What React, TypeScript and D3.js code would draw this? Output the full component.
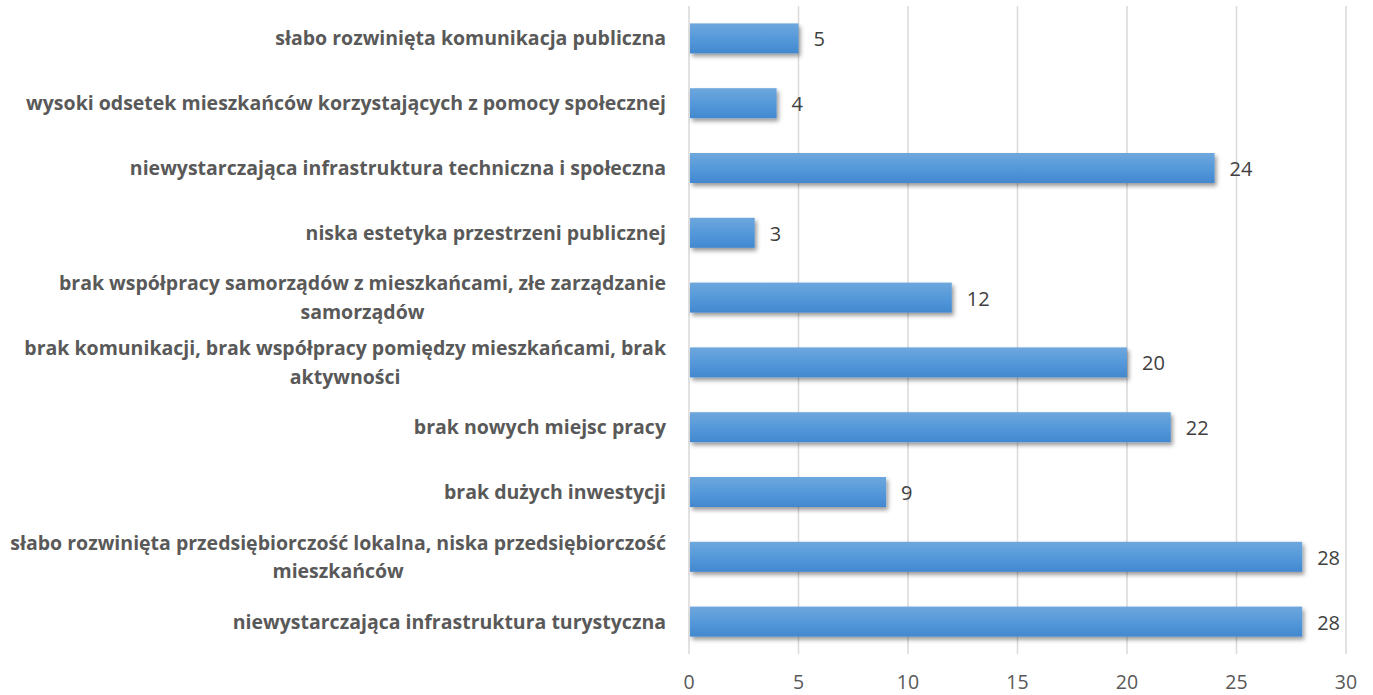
import React, { useEffect, useRef } from "react";
import * as d3 from "d3";

const categories: string[] = [
  "słabo rozwinięta komunikacja publiczna",
  "wysoki odsetek mieszkańców korzystających z pomocy społecznej",
  "niewystarczająca infrastruktura techniczna i społeczna",
  "niska estetyka przestrzeni publicznej",
  "brak współpracy samorządów z mieszkańcami, złe zarządzanie\nsamorządów",
  "brak komunikacji, brak współpracy pomiędzy mieszkańcami, brak\naktywności",
  "brak nowych miejsc pracy",
  "brak dużych inwestycji",
  "słabo rozwinięta przedsiębiorczość lokalna, niska przedsiębiorczość\nmieszkańców",
  "niewystarczająca infrastruktura turystyczna",
];
const values: number[] = [5, 4, 24, 3, 12, 20, 22, 9, 28, 28];
const xTicks: number[] = [0, 5, 10, 15, 20, 25, 30];

const W = 1373;
const H = 695;
const FONT = "'Open Sans', sans-serif";

export default function App() {
  const ref = useRef<SVGSVGElement | null>(null);

  useEffect(() => {
    const svg = d3.select(ref.current);
    svg.selectAll("*").remove();

    const x = d3.scaleLinear().domain([0, 30]).range([689, 1346]);
    const y = d3
      .scaleBand<string>()
      .domain(categories)
      .range([6, 654])
      .paddingInner(0.537)
      .paddingOuter(0.2685);

    const defs = svg.append("defs");
    const grad = defs
      .append("linearGradient")
      .attr("id", "barGrad")
      .attr("x1", 0)
      .attr("y1", 0)
      .attr("x2", 0)
      .attr("y2", 1);
    grad.append("stop").attr("offset", "0%").attr("stop-color", "#6ea7dd");
    grad.append("stop").attr("offset", "50%").attr("stop-color", "#5599da");
    grad.append("stop").attr("offset", "100%").attr("stop-color", "#4288cf");

    const f = defs
      .append("filter")
      .attr("id", "shadow")
      .attr("x", "-5%")
      .attr("y", "-20%")
      .attr("width", "115%")
      .attr("height", "160%");
    f.append("feDropShadow")
      .attr("dx", 2)
      .attr("dy", 3)
      .attr("stdDeviation", 2)
      .attr("flood-color", "#000")
      .attr("flood-opacity", 0.4);

    // gridlines
    svg
      .append("g")
      .selectAll("line")
      .data(xTicks)
      .join("line")
      .attr("x1", (d) => x(d))
      .attr("x2", (d) => x(d))
      .attr("y1", 6)
      .attr("y2", 654)
      .attr("stroke", "#d9d9d9")
      .attr("stroke-width", 1.5);

    // tick labels
    svg
      .append("g")
      .selectAll("text")
      .data(xTicks)
      .join("text")
      .attr("x", (d) => x(d))
      .attr("y", 689)
      .attr("text-anchor", "middle")
      .attr("font-family", FONT)
      .attr("font-size", 19.5)
      .attr("fill", "#595959")
      .text((d) => String(d));

    // bars
    svg
      .append("g")
      .selectAll("rect")
      .data(values)
      .join("rect")
      .attr("x", x(0) + 1)
      .attr("y", (_, i) => y(categories[i])!)
      .attr("width", (d) => x(d) - x(0) - 1)
      .attr("height", y.bandwidth())
      .attr("fill", "url(#barGrad)")
      .attr("filter", "url(#shadow)");

    // value labels
    svg
      .append("g")
      .selectAll("text")
      .data(values)
      .join("text")
      .attr("x", (d) => x(d) + 15)
      .attr("y", (_, i) => y(categories[i])! + y.bandwidth() / 2 + 8)
      .attr("font-family", FONT)
      .attr("font-size", 20)
      .attr("fill", "#404040")
      .text((d) => String(d));

    // category labels
    const labelRight = 666;
    const lineGap = 28.5;
    categories.forEach((cat) => {
      const lines = cat.split("\n");
      const cy = y(cat)! + y.bandwidth() / 2;
      const g = svg.append("g");
      const texts = lines.map((ln, j) =>
        g
          .append("text")
          .attr("y", cy + (j - (lines.length - 1) / 2) * lineGap + 7)
          .attr("text-anchor", "middle")
          .attr("font-family", FONT)
          .attr("font-weight", "bold")
          .attr("font-size", 19.5)
          .attr("fill", "#595959")
          .text(ln)
      );
      const widths = texts.map((t) => (t.node() as SVGTextElement).getComputedTextLength());
      const maxW = Math.max(...widths);
      texts.forEach((t) => t.attr("x", labelRight - maxW / 2));
    });
  }, []);

  return (
    <svg
      ref={ref}
      width={W}
      height={H}
      style={{ position: "absolute", left: 0, top: 0, background: "#fff" }}
    />
  );
}
